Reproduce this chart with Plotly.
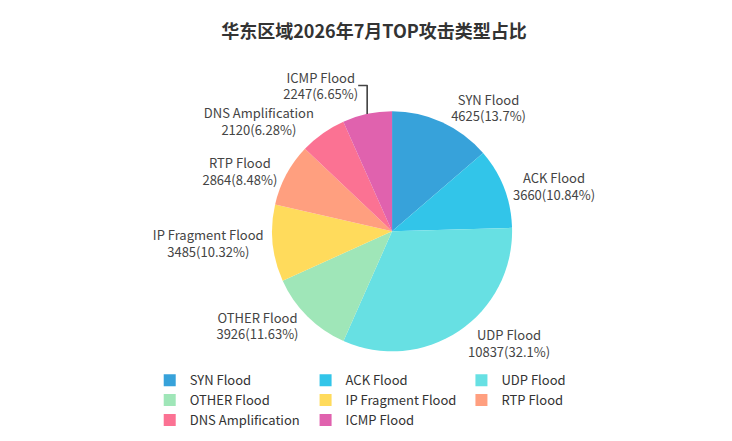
import plotly.graph_objects as go
import math

categories = ["SYN Flood", "ACK Flood", "UDP Flood", "OTHER Flood", "IP Fragment Flood",
              "RTP Flood", "DNS Amplification", "ICMP Flood"]
values = [4625, 3660, 10837, 3926, 3485, 2864, 2120, 2247]
colors = ["#37A2DA", "#32C5E9", "#67E0E3", "#9FE6B8", "#FFDB5C", "#FF9F7F", "#FB7293", "#E062AE"]

# largest-remainder percentages (2 decimals, sum to 100)
total = sum(values)
raw = [v / total * 10000 for v in values]
fl = [math.floor(r) for r in raw]
rem = 10000 - sum(fl)
order = sorted(range(len(raw)), key=lambda i: raw[i] - fl[i], reverse=True)
for i in order[:rem]:
    fl[i] += 1
def fmt(n):
    return f"{n / 100:.2f}".rstrip("0").rstrip(".")
texts = [f"{c}<br>{v}({fmt(p)}%)" for c, v, p in zip(categories, values, fl)]

fig = go.Figure(go.Pie(
    labels=categories, values=values, text=texts, textinfo="text",
    textposition="outside", sort=False, direction="clockwise", rotation=0,
    marker=dict(colors=colors, line=dict(color="white", width=0)),
    textfont=dict(size=13, color="#444"),
    domain=dict(x=[0.17, 0.82], y=[0.23, 0.86]),
    hoverinfo="label+value+percent",
))
fig.update_layout(
    width=732, height=441, paper_bgcolor="white",
    font=dict(family="Noto Sans CJK SC, Noto Sans, sans-serif"),
    title=dict(text="<b>华东区域2026年7月TOP攻击类型占比</b>", x=0.5, y=0.96,
               xanchor="center", font=dict(size=18, color="#333")),
    margin=dict(l=40, r=40, t=50, b=10),
    legend=dict(orientation="h", x=0.08, xanchor="left", y=0.01, yanchor="bottom",
                font=dict(size=13, color="#333"), traceorder="normal",
                entrywidthmode="pixels", entrywidth=0),
)
fig.write_html("out.html")
